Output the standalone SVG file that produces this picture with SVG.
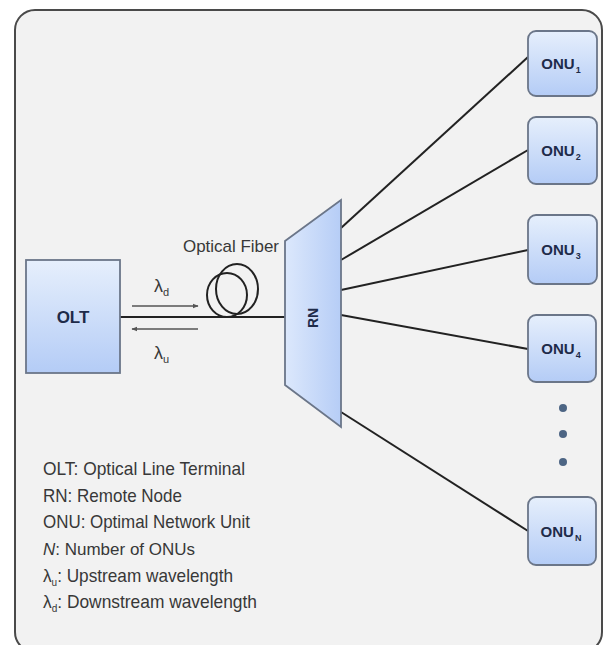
<svg xmlns="http://www.w3.org/2000/svg" width="605" height="645" viewBox="0 0 605 645">
  <style>
    .box { stroke: #6b7689; stroke-width: 1.8; }
    .lbl { font-family: "Liberation Sans", Arial, sans-serif; fill: #1e2b4a; font-weight: bold; }
    .txt { font-family: "Liberation Sans", Arial, sans-serif; fill: #383838; }
    .link { stroke: #222; stroke-width: 2; fill: none; }
    .arr { stroke: #555; stroke-width: 1.6; fill: none; }
    .ring { stroke: #222; stroke-width: 2; fill: none; }
  </style>
  <defs>
    <linearGradient id="boxFill" x1="0" y1="0" x2="0" y2="1">
      <stop offset="0" stop-color="#e6effc"/>
      <stop offset="1" stop-color="#b4ccf6"/>
    </linearGradient>
    <linearGradient id="rnFill" x1="0" y1="0" x2="1" y2="0">
      <stop offset="0" stop-color="#dce8fc"/>
      <stop offset="1" stop-color="#b6cdf6"/>
    </linearGradient>
    <marker id="head" viewBox="0 0 10 10" refX="9" refY="5" markerWidth="6" markerHeight="6" orient="auto-start-reverse" markerUnits="userSpaceOnUse">
      <path d="M0,1 L10,5 L0,9 z" fill="#555"/>
    </marker>
  </defs>

  <!-- page and frame -->
  <rect x="0" y="0" width="605" height="645" fill="#ffffff"/>
  <rect x="15" y="10" width="587" height="642" rx="20" fill="#f2f2f2" stroke="#4a4a4a" stroke-width="2"/>

  <!-- connectors -->
  <g id="connectors">
    <line class="link" x1="120" y1="317" x2="286" y2="317" stroke-width="2.5"/>
    <line class="link" x1="341" y1="228" x2="528" y2="57"/>
    <line class="link" x1="341" y1="260" x2="528" y2="150"/>
    <line class="link" x1="341" y1="290" x2="528" y2="250"/>
    <line class="link" x1="341" y1="315" x2="528" y2="349"/>
    <line class="link" x1="341" y1="412" x2="528" y2="531"/>
    <!-- direction arrows along the fiber -->
    <line class="arr" x1="132" y1="306" x2="198" y2="306" marker-end="url(#head)"/>
    <line class="arr" x1="198" y1="329" x2="132" y2="329" marker-end="url(#head)"/>
  </g>

  <!-- fiber coil -->
  <g id="fiber">
    <ellipse class="ring" cx="227" cy="295" rx="20" ry="22"/>
    <ellipse class="ring" cx="237" cy="289" rx="21" ry="25"/>
    <text class="txt" x="231" y="252" font-size="17" text-anchor="middle" textLength="96" lengthAdjust="spacingAndGlyphs">Optical Fiber</text>
  </g>

  <!-- wavelength labels -->
  <g id="lambdas">
    <text class="txt" x="154" y="292" font-size="18">λ<tspan font-size="11" dy="4">d</tspan></text>
    <text class="txt" x="154" y="359" font-size="18">λ<tspan font-size="11" dy="4">u</tspan></text>
  </g>

  <!-- OLT -->
  <g id="olt">
    <rect class="box" x="26" y="260" width="94" height="113" fill="url(#boxFill)"/>
    <text class="lbl" x="73" y="323" font-size="17" text-anchor="middle">OLT</text>
  </g>

  <!-- Remote node -->
  <g id="rn">
    <polygon class="box" points="285,241 341,200 341,427 285,385" fill="url(#rnFill)"/>
    <text class="lbl" x="0" y="0" font-size="14" text-anchor="middle" transform="translate(318,318) rotate(-90)">RN</text>
  </g>

  <!-- ONUs -->
  <g id="onu1">
    <rect class="box" x="528" y="31" width="69" height="65" rx="8" fill="url(#boxFill)"/>
    <text class="lbl" x="561" y="69" font-size="15" text-anchor="middle">ONU<tspan font-size="9" dx="1" dy="4">1</tspan></text>
  </g>
  <g id="onu2">
    <rect class="box" x="528" y="117" width="69" height="67" rx="8" fill="url(#boxFill)"/>
    <text class="lbl" x="561" y="156" font-size="15" text-anchor="middle">ONU<tspan font-size="9" dx="1" dy="4">2</tspan></text>
  </g>
  <g id="onu3">
    <rect class="box" x="528" y="215" width="69" height="69" rx="8" fill="url(#boxFill)"/>
    <text class="lbl" x="561" y="255" font-size="15" text-anchor="middle">ONU<tspan font-size="9" dx="1" dy="4">3</tspan></text>
  </g>
  <g id="onu4">
    <rect class="box" x="528" y="315" width="68" height="67" rx="8" fill="url(#boxFill)"/>
    <text class="lbl" x="561" y="354" font-size="15" text-anchor="middle">ONU<tspan font-size="9" dx="1" dy="4">4</tspan></text>
  </g>
  <g id="dots">
    <circle cx="563" cy="408" r="4" fill="#4d6584"/>
    <circle cx="563" cy="434" r="4" fill="#4d6584"/>
    <circle cx="563" cy="462" r="4" fill="#4d6584"/>
  </g>
  <g id="onuN">
    <rect class="box" x="528" y="497" width="68" height="68" rx="8" fill="url(#boxFill)"/>
    <text class="lbl" x="561" y="537" font-size="15" text-anchor="middle">ONU<tspan font-size="9" dx="1" dy="4">N</tspan></text>
  </g>

  <!-- legend -->
  <g id="legend" class="txt" font-size="19">
    <text x="43" y="475" textLength="202" lengthAdjust="spacingAndGlyphs">OLT: Optical Line Terminal</text>
    <text x="43" y="502" textLength="139" lengthAdjust="spacingAndGlyphs">RN: Remote Node</text>
    <text x="43" y="528" textLength="207" lengthAdjust="spacingAndGlyphs">ONU: Optimal Network Unit</text>
    <text x="43" y="555" font-size="17"><tspan font-style="italic">N</tspan>: Number of ONUs</text>
    <text x="43" y="582" textLength="190" lengthAdjust="spacingAndGlyphs">λ<tspan font-size="11" dy="4">u</tspan><tspan dy="-4">: Upstream wavelength</tspan></text>
    <text x="43" y="608" textLength="214" lengthAdjust="spacingAndGlyphs">λ<tspan font-size="11" dy="4">d</tspan><tspan dy="-4">: Downstream wavelength</tspan></text>
  </g>
</svg>
